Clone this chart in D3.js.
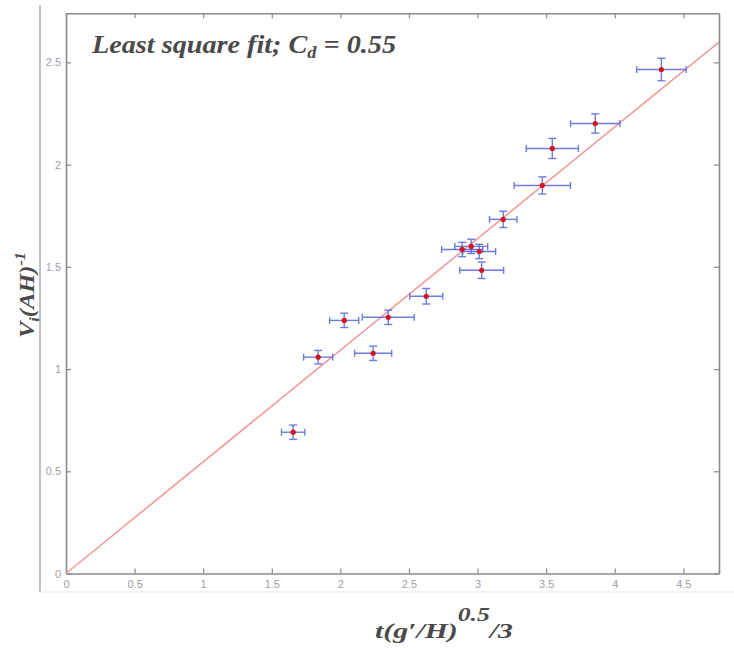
<!DOCTYPE html>
<html>
<head>
<meta charset="utf-8">
<script src="https://cdn.jsdelivr.net/npm/d3@7"></script>
<style>
  body { margin: 0; background: #fff; }
  svg { display: block; }
</style>
</head>
<body>
<script>
// measured volume vs scaled time, with error bars in both directions
const tScaled = [1.656, 1.838, 2.028, 2.239, 2.349, 2.626, 2.888, 2.954, 3.012, 3.03, 3.187, 3.472, 3.545, 3.858, 4.34];
const volume  = [0.691, 1.058, 1.238, 1.077, 1.253, 1.356, 1.585, 1.600, 1.575, 1.483, 1.732, 1.898, 2.079, 2.201, 2.465];
const tErr    = [0.085, 0.106, 0.106, 0.135, 0.19, 0.12, 0.15, 0.12, 0.12, 0.16, 0.10, 0.205, 0.19, 0.18, 0.18];
const vErr    = [0.035, 0.033, 0.035, 0.035, 0.035, 0.038, 0.035, 0.035, 0.035, 0.04, 0.04, 0.042, 0.049, 0.047, 0.055];

const fitSlope = 0.546;
const xTicks = [0, 0.5, 1, 1.5, 2, 2.5, 3, 3.5, 4, 4.5];
const yTicks = [0, 0.5, 1, 1.5, 2, 2.5];
const xDomain = [0, 4.76];
const yDomain = [0, 2.74];

const width = 734, height = 648;
const box = { left: 66, right: 719, top: 13.3, bottom: 573.5 };

const svg = d3.select('body').append('svg')
    .attr('width', width)
    .attr('height', height);

const x = d3.scaleLinear().domain(xDomain).range([box.left, box.right]);
const y = d3.scaleLinear().domain(yDomain).range([box.bottom, box.top]);

// outer figure frame
svg.append('line')
    .attr('x1', 40).attr('x2', 40).attr('y1', 5).attr('y2', 592)
    .attr('stroke', '#999').attr('stroke-width', 1.2);
svg.append('line')
    .attr('x1', 40).attr('x2', width).attr('y1', 592).attr('y2', 592)
    .attr('stroke', '#e4e4e4').attr('stroke-width', 1);

// axes box, ticks pointing inwards on all four sides
const styleAxis = (g) => {
    g.select('.domain').attr('stroke', '#8a8a8a').attr('stroke-width', 1.6);
    g.selectAll('.tick line').attr('stroke', '#8a8a8a').attr('stroke-width', 1.2);
    g.selectAll('.tick text')
        .attr('fill', '#a0a0a0')
        .attr('font-family', 'Liberation Sans, Arial, sans-serif')
        .attr('font-size', 11);
};

svg.append('g')
    .attr('transform', `translate(0,${box.bottom})`)
    .call(d3.axisBottom(x).tickValues(xTicks).tickSize(-5).tickSizeOuter(0).tickPadding(7).tickFormat(d3.format('')))
    .call(styleAxis);

svg.append('g')
    .attr('transform', `translate(0,${box.top})`)
    .call(d3.axisTop(x).tickValues(xTicks).tickSize(-5).tickSizeOuter(0).tickFormat(''))
    .call(styleAxis);

svg.append('g')
    .attr('transform', `translate(${box.left},0)`)
    .call(d3.axisLeft(y).tickValues(yTicks).tickSize(-5).tickSizeOuter(0).tickPadding(5).tickFormat(d3.format('')))
    .call(styleAxis);

svg.append('g')
    .attr('transform', `translate(${box.right},0)`)
    .call(d3.axisRight(y).tickValues(yTicks).tickSize(-5).tickSizeOuter(0).tickFormat(''))
    .call(styleAxis);

// least-squares line through the origin
svg.append('line')
    .attr('x1', x(0)).attr('y1', y(0))
    .attr('x2', x(xDomain[1])).attr('y2', y(fitSlope * xDomain[1]))
    .attr('stroke', '#f29a9a')
    .attr('stroke-width', 1.6);

const points = tScaled.map((t, i) => ({ t, v: volume[i], dt: tErr[i], dv: vErr[i] }));

const errColor = '#5566dd';
const cap = 3.5;

const bars = svg.append('g').attr('class', 'error-bars')
    .selectAll('g')
    .data(points)
    .enter()
    .append('g')
    .attr('stroke', errColor)
    .attr('stroke-width', 1.4)
    .attr('opacity', 0.85);

bars.append('line')
    .attr('x1', d => x(d.t - d.dt)).attr('x2', d => x(d.t + d.dt))
    .attr('y1', d => y(d.v)).attr('y2', d => y(d.v));
bars.append('line')
    .attr('x1', d => x(d.t - d.dt)).attr('x2', d => x(d.t - d.dt))
    .attr('y1', d => y(d.v) - cap).attr('y2', d => y(d.v) + cap);
bars.append('line')
    .attr('x1', d => x(d.t + d.dt)).attr('x2', d => x(d.t + d.dt))
    .attr('y1', d => y(d.v) - cap).attr('y2', d => y(d.v) + cap);
bars.append('line')
    .attr('x1', d => x(d.t)).attr('x2', d => x(d.t))
    .attr('y1', d => y(d.v - d.dv)).attr('y2', d => y(d.v + d.dv));
bars.append('line')
    .attr('x1', d => x(d.t) - 4).attr('x2', d => x(d.t) + 4)
    .attr('y1', d => y(d.v + d.dv)).attr('y2', d => y(d.v + d.dv));
bars.append('line')
    .attr('x1', d => x(d.t) - 4).attr('x2', d => x(d.t) + 4)
    .attr('y1', d => y(d.v - d.dv)).attr('y2', d => y(d.v - d.dv));

svg.append('g').attr('class', 'drops')
    .selectAll('circle')
    .data(points)
    .enter()
    .append('circle')
    .attr('cx', d => x(d.t))
    .attr('cy', d => y(d.v))
    .attr('r', 2.6)
    .attr('fill', '#d4141e');

// labels
const labelFont = 'Liberation Serif, Times New Roman, serif';

const title = svg.append('text')
    .attr('x', 92).attr('y', 53)
    .attr('font-family', labelFont)
    .attr('font-style', 'italic')
    .attr('font-weight', 'bold')
    .attr('font-size', 26)
    .attr('fill', '#4a4a4a')
    .attr('textLength', 304)
    .attr('lengthAdjust', 'spacingAndGlyphs');
title.append('tspan').text('Least square fit; C');
title.append('tspan').attr('font-size', 17).attr('dy', 5).text('d');
title.append('tspan').attr('dy', -5).text(' =  0.55');

const xLabel = svg.append('text')
    .attr('x', 375).attr('y', 638)
    .attr('font-family', labelFont)
    .attr('font-style', 'italic')
    .attr('font-weight', 'bold')
    .attr('font-size', 22)
    .attr('fill', '#4a4a4a')
    .attr('textLength', 138)
    .attr('lengthAdjust', 'spacingAndGlyphs');
xLabel.append('tspan').text('t(g\u2032/H)');
xLabel.append('tspan').attr('font-size', 19).attr('dy', -17).text('0.5');
xLabel.append('tspan').attr('dy', 17).text('/3');

// rotated label starts at the bottom and runs upward
const yLabel = svg.append('text')
    .attr('transform', 'translate(34,338) rotate(-90)')
    .attr('font-family', labelFont)
    .attr('font-style', 'italic')
    .attr('font-weight', 'bold')
    .attr('font-size', 21)
    .attr('fill', '#4a4a4a')
    .attr('textLength', 86)
    .attr('lengthAdjust', 'spacingAndGlyphs');
yLabel.append('tspan').text('V');
yLabel.append('tspan').attr('font-size', 14).attr('dy', 5).text('i');
yLabel.append('tspan').attr('dy', -5).text('(AH)');
yLabel.append('tspan').attr('font-size', 14).attr('dy', -9).text('-1');
</script>
</body>
</html>
